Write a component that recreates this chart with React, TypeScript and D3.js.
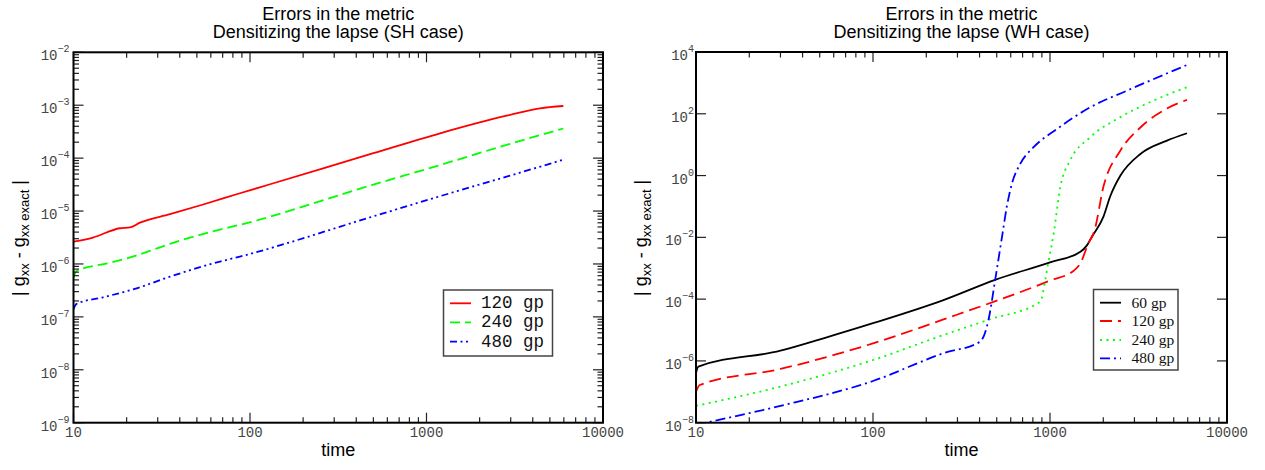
import React from 'react';
import * as d3 from 'd3';

const W = 1265;
const H = 470;

// ---------- Left panel (SH case) ----------
const shTime120 = [10, 12.9, 18.3, 20.9, 23.8, 35.2, 54.3, 87.7, 130, 500, 1194, 2843, 4395, 5960];
const shErr120 = [2.64e-6, 3.16e-6, 4.73e-6, 4.9e-6, 6.03e-6, 8.71e-6, 1.33e-5, 2.17e-5, 3.21e-5, 1.24e-4, 2.95e-4, 6.34e-4, 8.75e-4, 9.66e-4];
const shTime240 = [10, 10.4, 16.1, 22.8, 35.2, 67.6, 87.7, 500, 1194, 2843, 5960];
const shErr240 = [5.4e-7, 7.4e-7, 1.05e-6, 1.45e-6, 2.4e-6, 4.47e-6, 5.5e-6, 3.16e-5, 7.41e-5, 1.78e-4, 3.63e-4];
const shTime480 = [10, 10.4, 14.7, 22.8, 35.2, 67.6, 87.7, 500, 1194, 2843, 5960];
const shErr480 = [1.4e-7, 1.76e-7, 2.34e-7, 3.47e-7, 5.75e-7, 1.11e-6, 1.38e-6, 7.94e-6, 1.91e-5, 4.47e-5, 9.33e-5];

// ---------- Right panel (WH case) ----------
const whTime60 = [10, 10.3, 30, 52.5, 100, 250, 490, 1000, 1485, 1620, 1725, 2005, 2187, 2500, 3240, 4580, 5940];
const whErr60 = [4e-7, 6.5e-7, 2.14e-6, 5.4e-6, 1.66e-5, 9.3e-5, 4.2e-4, 1.55e-3, 3.4e-3, 5.6e-3, 1.05e-2, 4.7e-2, 0.21, 1.0, 5.0, 13.5, 23.4];
const whTime120 = [10, 10.5, 30, 100, 250, 1000, 1360, 1485, 1650, 1780, 2005, 2500, 3240, 4580, 5940];
const whErr120 = [1.0e-7, 1.66e-7, 5.5e-7, 3.7e-6, 2.2e-5, 4.0e-4, 8.3e-4, 1.45e-3, 6.5e-3, 1.6e-2, 0.44, 6.5, 36, 148, 282];
const whTime240 = [10, 30, 100, 250, 459, 881, 940, 977, 1050, 1143, 1300, 1687, 2500, 3850, 5940];
const whErr240 = [3.5e-8, 1.48e-7, 1.07e-6, 6.9e-6, 2.24e-5, 8.3e-5, 4.2e-4, 1.45e-3, 1.4e-2, 0.42, 3.1, 17.4, 78, 269, 724];
const whTime480 = [10, 12, 30, 100, 250, 403, 449, 490, 540, 570, 609, 679, 808, 1094, 1687, 2724, 5940];
const whErr480 = [8.5e-9, 1.07e-8, 3.5e-8, 2.24e-7, 1.78e-6, 4.2e-6, 2.1e-5, 4.2e-4, 1.4e-2, 0.098, 0.54, 2.4, 8.3, 32, 162, 562, 3800];

const xMajor = [10, 100, 1000, 10000];
const xTickLabels = ['10', '100', '1000', '10000'];
const leftYExps = [-9, -8, -7, -6, -5, -4, -3, -2];
const rightYExps = [-8, -6, -4, -2, 0, 2, 4];

const titleLine1 = 'Errors in the metric';
const leftTitle2 = 'Densitizing the lapse (SH case)';
const rightTitle2 = 'Densitizing the lapse (WH case)';

const leftLabels = ['120 gp', '240 gp', '480 gp'];
const rightLabels = ['60 gp', '120 gp', '240 gp', '480 gp'];

type Series = { t: number[]; v: number[]; color: string; dash?: string; label: string };

const MONO = "'Liberation Mono', 'DejaVu Sans Mono', monospace";
const SANS = "'Liberation Sans', Arial, sans-serif";
const SERIF = "'Liberation Serif', 'Times New Roman', serif";

function expStr(e: number) {
  return e < 0 ? '\u2212' + Math.abs(e) : String(e);
}

type PanelProps = {
  id: string;
  x0: number; x1: number; y0: number; y1: number;
  yExps: number[];
  yMinor: boolean;
  title2: string;
  series: Series[];
  labelGap: number;
  yLabelX: number;
  legend: { x: number; y: number; w: number; h: number; rows: number[]; lx0: number; lx1: number; tx: number; font: string; size: number; };
};

function Panel(p: PanelProps) {
  const xs = d3.scaleLog().domain([10, 10000]).range([p.x0, p.x1]);
  const ys = d3.scaleLog().domain([Math.pow(10, p.yExps[0]), Math.pow(10, p.yExps[p.yExps.length - 1])]).range([p.y1, p.y0]);
  const line = d3.line<[number, number]>().x(d => xs(d[0])).y(d => ys(d[1])).curve(d3.curveMonotoneX);
  const xMinor: number[] = [];
  for (const d of [10, 100, 1000]) for (let k = 2; k <= 9; k++) xMinor.push(k * d);
  const yMinorVals: number[] = [];
  if (p.yMinor) {
    for (let i = 0; i < p.yExps.length - 1; i++) for (let k = 2; k <= 9; k++) yMinorVals.push(k * Math.pow(10, p.yExps[i]));
  }
  const MAJ = 10, MIN = 5.5;
  const tickColor = '#222';
  const cx = (p.x0 + p.x1) / 2;
  const yc = (p.y0 + p.y1) / 2 + 0.5;
  return (
    <g>
      <defs>
        <clipPath id={p.id}>
          <rect x={p.x0} y={p.y0} width={p.x1 - p.x0} height={p.y1 - p.y0} />
        </clipPath>
      </defs>
      <text x={cx} y={20} textAnchor="middle" fontFamily={SANS} fontSize={18} fill="#000">{titleLine1}</text>
      <text x={cx} y={38} textAnchor="middle" fontFamily={SANS} fontSize={18} fill="#000">{p.title2}</text>
      {/* series */}
      <g clipPath={`url(#${p.id})`}>
        {p.series.map((s, i) => (
          <path key={i} d={line(s.t.map((t, j) => [t, s.v[j]] as [number, number])) || ''}
            fill="none" stroke={s.color} strokeWidth={1.8} strokeDasharray={s.dash} />
        ))}
      </g>
      {/* ticks */}
      <g stroke={tickColor} strokeWidth={1.2}>
        {xMajor.map(v => (
          <g key={'xm' + v}>
            <line x1={xs(v)} x2={xs(v)} y1={p.y1} y2={p.y1 - MAJ} />
            <line x1={xs(v)} x2={xs(v)} y1={p.y0} y2={p.y0 + MAJ} />
          </g>
        ))}
        {xMinor.map(v => (
          <g key={'xn' + v}>
            <line x1={xs(v)} x2={xs(v)} y1={p.y1} y2={p.y1 - MIN} />
            <line x1={xs(v)} x2={xs(v)} y1={p.y0} y2={p.y0 + MIN} />
          </g>
        ))}
        {p.yExps.map(e => {
          const y = ys(Math.pow(10, e));
          return (
            <g key={'ym' + e}>
              <line x1={p.x0} x2={p.x0 + MAJ} y1={y} y2={y} />
              <line x1={p.x1} x2={p.x1 - MAJ} y1={y} y2={y} />
            </g>
          );
        })}
        {yMinorVals.map(v => (
          <g key={'yn' + v}>
            <line x1={p.x0} x2={p.x0 + MIN} y1={ys(v)} y2={ys(v)} />
            <line x1={p.x1} x2={p.x1 - MIN} y1={ys(v)} y2={ys(v)} />
          </g>
        ))}
      </g>
      {/* frame */}
      <rect x={p.x0} y={p.y0} width={p.x1 - p.x0} height={p.y1 - p.y0} fill="none" stroke="#000" strokeWidth={2} />
      {/* tick labels */}
      {xMajor.map((v, i) => (
        <text key={'xl' + v} x={xs(v)} y={p.y1 + 14.5} textAnchor="middle" fontFamily={MONO} fontSize={14} fill="#444">{xTickLabels[i]}</text>
      ))}
      {p.yExps.map(e => (
        <text key={'yl' + e} x={p.x0 - p.labelGap} y={ys(Math.pow(10, e)) + 8} textAnchor="end" fontFamily={MONO} fontSize={14} fill="#444">
          10<tspan dy={-8} fontSize={10}>{expStr(e)}</tspan>
        </text>
      ))}
      {/* axis titles */}
      <text x={cx} y={456} textAnchor="middle" fontFamily={SANS} fontSize={18} fill="#000">time</text>
      <text transform={`translate(${p.yLabelX},${yc}) rotate(-90)`} textAnchor="middle" fontFamily={SANS} fontSize={18} fill="#000">
        {'| g'}<tspan dy={4} fontSize={13}>xx</tspan><tspan dy={-4}>{' - g'}</tspan><tspan dy={4} fontSize={13}>{'xx exact'}</tspan><tspan dy={-4}>{' |'}</tspan>
      </text>
      {/* legend */}
      <rect x={p.legend.x} y={p.legend.y} width={p.legend.w} height={p.legend.h} fill="#fff" stroke="#444" strokeWidth={1.5} />
      {p.series.map((s, i) => (
        <g key={'lg' + i}>
          <line x1={p.legend.lx0} x2={p.legend.lx1} y1={p.legend.rows[i]} y2={p.legend.rows[i]} stroke={s.color} strokeWidth={1.8} strokeDasharray={s.dash} />
          <text x={p.legend.tx} y={p.legend.rows[i] + 5} fontFamily={p.legend.font} fontSize={p.legend.size} fill="#111">{s.label}</text>
        </g>
      ))}
    </g>
  );
}

export default function App() {
  const leftSeries: Series[] = [
    { t: shTime120, v: shErr120, color: '#ff0000', label: leftLabels[0] },
    { t: shTime240, v: shErr240, color: '#00ff00', dash: '10 5', label: leftLabels[1] },
    { t: shTime480, v: shErr480, color: '#0000ff', dash: '7 3.5 2 3.5 2 3.5', label: leftLabels[2] },
  ];
  const rightSeries: Series[] = [
    { t: whTime60, v: whErr60, color: '#000000', label: rightLabels[0] },
    { t: whTime120, v: whErr120, color: '#ff0000', dash: '12 6', label: rightLabels[1] },
    { t: whTime240, v: whErr240, color: '#00ff00', dash: '2 4.5', label: rightLabels[2] },
    { t: whTime480, v: whErr480, color: '#0000ff', dash: '10 4 2 4', label: rightLabels[3] },
  ];
  return (
    <svg width={W} height={H} style={{ position: 'absolute', left: 0, top: 0, background: '#fff' }}>
      <rect x={0} y={0} width={W} height={H} fill="#fff" />
      <Panel id="clipL" x0={73.5} x1={603} y0={52.3} y1={422.7} yExps={leftYExps} yMinor={true}
        title2={leftTitle2} series={leftSeries} labelGap={4} yLabelX={25}
        legend={{ x: 443.5, y: 290, w: 109, h: 66, rows: [303.3, 322.3, 341.7], lx0: 450, lx1: 471, tx: 481, font: MONO, size: 17.5 }} />
      <Panel id="clipR" x0={696} x1={1227} y0={52} y1={422.7} yExps={rightYExps} yMinor={false}
        title2={rightTitle2} series={rightSeries} labelGap={2} yLabelX={647}
        legend={{ x: 1093.5, y: 289.5, w: 84.5, h: 80.5, rows: [302.7, 321, 340, 358.3], lx0: 1100, lx1: 1121, tx: 1131.5, font: SERIF, size: 15.5 }} />
    </svg>
  );
}
